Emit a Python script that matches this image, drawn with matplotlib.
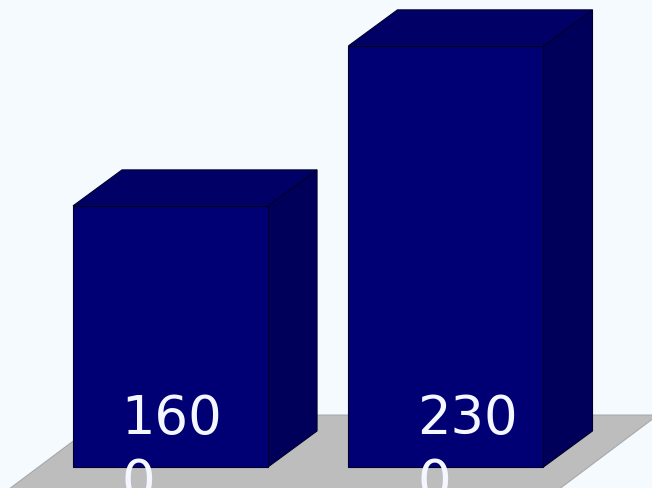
import matplotlib.pyplot as plt
from matplotlib.patches import Polygon

labels = ["1600", "2300"]
values = [1600, 2300]
label_text = ["160\n0", "230\n0"]

base = 458          # value axis floor where the bars stand
bar_w = 0.708
depth_x, depth_y = 0.178, 157.5   # 3d offset of the back faces

fig = plt.figure(figsize=(6.52, 4.89), dpi=100)
ax = fig.add_axes([0, 0, 1, 1])
ax.set_xlim(-0.619, 1.748)
ax.set_ylim(366, 2505)
ax.axis("off")
fig.patch.set_facecolor("#F5FAFF")

# grey floor plane under the bars
floor = Polygon([(-0.634, 318), (1.363, 318), (1.769, 685), (-0.227, 685)],
                closed=True, facecolor="#BDBDBD", edgecolor="#A8A8A8", lw=0.8)
ax.add_patch(floor)

edge = "#00002E"
for i, v in enumerate(values):
    x0, x1 = i - bar_w / 2, i + bar_w / 2
    front = [(x0, base), (x1, base), (x1, v), (x0, v)]
    top = [(x0, v), (x1, v), (x1 + depth_x, v + depth_y), (x0 + depth_x, v + depth_y)]
    side = [(x1, base), (x1 + depth_x, base + depth_y),
            (x1 + depth_x, v + depth_y), (x1, v)]
    ax.add_patch(Polygon(side, closed=True, facecolor="#00005A", edgecolor=edge, lw=0.8))
    ax.add_patch(Polygon(top, closed=True, facecolor="#000066", edgecolor=edge, lw=0.8))
    ax.add_patch(Polygon(front, closed=True, facecolor="#000074", edgecolor=edge, lw=0.8))

# value labels, wrapped inside the bar and running past the bottom edge
label_dx = [-0.178, -0.104]
for i, txt in enumerate(label_text):
    ax.text(i + label_dx[i], 786, txt, color="#F4F7FF", fontsize=38,
            ha="left", va="top", multialignment="left",
            linespacing=1.3, clip_on=False)

fig.savefig("out.png", dpi=100, facecolor=fig.get_facecolor())
